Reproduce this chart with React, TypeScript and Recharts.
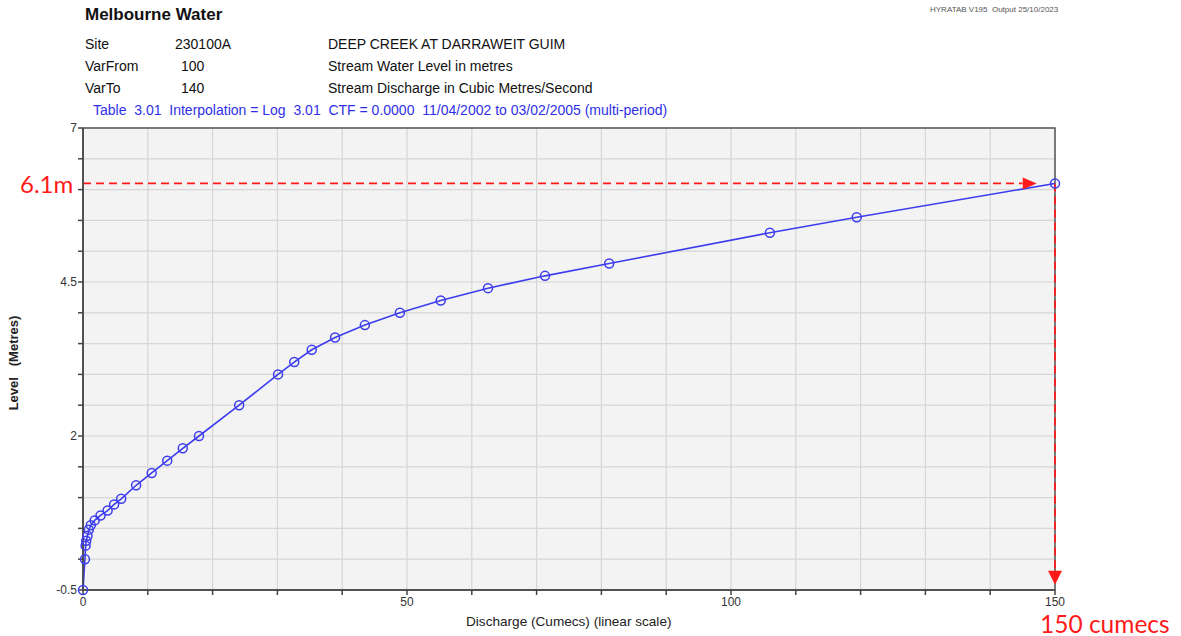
import React from 'react';
import {
  LineChart,
  Line,
  XAxis,
  YAxis,
  CartesianGrid,
  ReferenceLine,
  ReferenceDot,
  ReferenceArea,
} from 'recharts';

// Rating table 3.01 points (discharge in cumecs, level in metres)
const discharge = [
  0, 0.3, 0.4, 0.5, 0.7, 0.9, 1.2, 1.8, 2.7, 3.8, 4.8, 5.9, 8.2, 10.6, 13.0, 15.4, 17.9,
  24.1, 30.1, 32.6, 35.3, 38.9, 43.5, 48.9, 55.2, 62.5, 71.3, 81.2, 106.0, 119.4, 150,
];
const level = [
  -0.5, 0, 0.22, 0.3, 0.38, 0.48, 0.55, 0.63, 0.71, 0.79, 0.89, 0.98, 1.2, 1.4, 1.6, 1.8, 2.0,
  2.5, 3.0, 3.2, 3.4, 3.6, 3.8, 4.0, 4.2, 4.4, 4.6, 4.8, 5.3, 5.55, 6.1,
];

const xTicks = [0, 10, 20, 30, 40, 50, 60, 70, 80, 90, 100, 110, 120, 130, 140, 150];
const xLabelled = [0, 50, 100, 150];
const yTicks = [-0.5, 0, 0.5, 1, 1.5, 2, 2.5, 3, 3.5, 4, 4.5, 5, 5.5, 6, 6.5, 7];
const yLabelled = [-0.5, 2, 4.5, 7];

const targetLevel = 6.1;
const targetFlow = 150;

const data = discharge.map((q, i) => ({ q, level: level[i] }));

const BLUE = '#3d3def';
const RED = '#ff1a1a';
const FONT = '"Liberation Sans", Arial, sans-serif';

const Ring = (props: any) => {
  const { cx, cy, index } = props;
  if (cx == null || cy == null) return null;
  return <circle key={`d-${index}`} cx={cx} cy={cy} r={4.5} fill="none" stroke={BLUE} strokeWidth={1.5} />;
};

const ArrowRight = (props: any) => {
  const { cx, cy } = props;
  return <polygon points={`${cx - 7},${cy - 6} ${cx + 7},${cy} ${cx - 7},${cy + 6}`} fill={RED} />;
};

const ArrowDown = (props: any) => {
  const { cx, cy } = props;
  return <polygon points={`${cx - 7},${cy - 7} ${cx + 7},${cy - 7} ${cx},${cy + 7}`} fill={RED} />;
};

const txt = (left: number, top: number, size: number, extra: React.CSSProperties = {}) =>
  ({
    position: 'absolute',
    left,
    top,
    fontSize: size,
    lineHeight: 1,
    whiteSpace: 'pre',
    color: '#111',
    fontFamily: FONT,
    ...extra,
  } as React.CSSProperties);

export default function App() {
  return (
    <div style={{ position: 'absolute', left: 0, top: 0, width: 1181, height: 636, background: '#fff', fontFamily: FONT }}>
      <div style={txt(85, 6, 17, { fontWeight: 'bold' })}>Melbourne Water</div>
      <div style={txt(930, 6, 8, { color: '#555' })}>HYRATAB V195  Output 25/10/2023</div>

      <div style={txt(85, 37, 14)}>Site</div>
      <div style={txt(175, 37, 14)}>230100A</div>
      <div style={txt(328, 37, 14)}>DEEP CREEK AT DARRAWEIT GUIM</div>
      <div style={txt(85, 59, 14)}>VarFrom</div>
      <div style={txt(181, 59, 14)}>100</div>
      <div style={txt(328, 59, 14)}>Stream Water Level in metres</div>
      <div style={txt(85, 81, 14)}>VarTo</div>
      <div style={txt(181, 81, 14)}>140</div>
      <div style={txt(328, 81, 14)}>Stream Discharge in Cubic Metres/Second</div>
      <div style={txt(93, 103, 14, { color: '#2f2fe8' })}>
        {'Table  3.01  Interpolation = Log  3.01  CTF = 0.0000  11/04/2002 to 03/02/2005 (multi-period)'}
      </div>

      <LineChart
        width={1181}
        height={636}
        data={data}
        margin={{ top: 128, right: 126, bottom: 16, left: 43 }}
        style={{ position: 'absolute', left: 0, top: 0 }}
      >
        <CartesianGrid fill="#f3f3f3" stroke="#d6d6d6" strokeWidth={1.2} horizontalValues={yTicks} verticalValues={xTicks} />
        <ReferenceArea x1={0} x2={150} y1={-0.5} y2={7} fill="none" stroke="#555" strokeWidth={1.5} />
        <XAxis
          type="number"
          dataKey="q"
          domain={[0, 150]}
          ticks={xTicks}
          interval={0}
          height={30}
          stroke="#444"
          strokeWidth={1.5}
          tickSize={5}
          tick={{ fill: '#333', fontSize: 12, fontFamily: FONT }}
          tickFormatter={(v: number) => (xLabelled.includes(v) ? String(v) : '')}
        />
        <YAxis
          type="number"
          domain={[-0.5, 7]}
          ticks={yTicks}
          interval={0}
          width={40}
          stroke="#444"
          strokeWidth={1.5}
          tickSize={5}
          tickMargin={1}
          tick={{ fill: '#333', fontSize: 12, fontFamily: FONT }}
          tickFormatter={(v: number) => (yLabelled.includes(v) ? String(v) : '')}
        />
        <ReferenceLine
          segment={[{ x: 0, y: targetLevel }, { x: 145, y: targetLevel }]}
          stroke={RED}
          strokeWidth={1.8}
          strokeDasharray="8 5"
        />
        <ReferenceLine
          segment={[{ x: targetFlow, y: targetLevel }, { x: targetFlow, y: -0.2 }]}
          stroke={RED}
          strokeWidth={1.8}
          strokeDasharray="8 5"
        />
        <Line
          type="linear"
          dataKey="level"
          stroke={BLUE}
          strokeWidth={1.6}
          dot={Ring}
          activeDot={false}
          isAnimationActive={false}
        />
        <ReferenceDot x={146.1} y={targetLevel} r={7} shape={ArrowRight} />
        <ReferenceDot x={targetFlow} y={-0.3} r={7} shape={ArrowDown} />
      </LineChart>

      <div
        style={txt(13, 363, 13, {
          transform: 'translate(-50%, -50%) rotate(-90deg)',
          color: '#222',
          fontWeight: 'bold',
        })}
      >
        {'Level   (Metres)'}
      </div>
      <div style={txt(466, 615, 13.6, { color: '#222' })}>Discharge (Cumecs) (linear scale)</div>

      <div style={txt(20, 172, 24, { color: RED, fontFamily: 'Lato, "Open Sans", sans-serif' })}>6.1m</div>
      <div style={txt(1040, 612, 24.5, { color: RED, fontFamily: 'Lato, "Open Sans", sans-serif' })}>150 cumecs</div>
    </div>
  );
}
